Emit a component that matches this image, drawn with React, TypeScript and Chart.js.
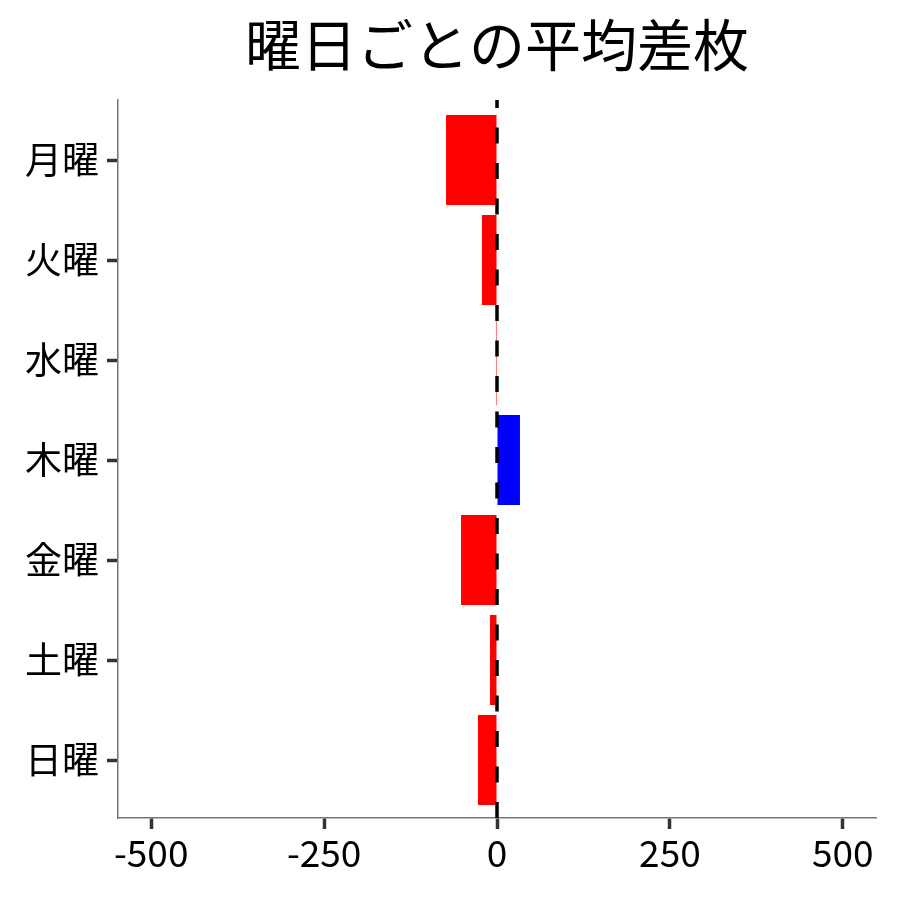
import React, { useEffect, useRef } from "react";
import { Chart, registerables } from "chart.js";

Chart.register(...registerables);

const categories = ["月曜", "火曜", "水曜", "木曜", "金曜", "土曜", "日曜"];
const values = [-73.7, -21.7, -1.5, 33.2, -52, -10.1, -27.5];
const tickValues = [-500, -250, 0, 250, 500];
const titleText = "曜日ごとの平均差枚";

const FONT = "'Noto Sans CJK JP', 'Noto Sans', sans-serif";

export default function App() {
  const ref = useRef<HTMLCanvasElement | null>(null);
  useEffect(() => {
    if (!ref.current) return;
    const titlePlugin = {
      id: "customTitle",
      afterDraw(chart: any) {
        const { ctx, chartArea } = chart;
        ctx.save();
        ctx.font = `56px ${FONT}`;
        ctx.fillStyle = "#000";
        ctx.textAlign = "center";
        ctx.textBaseline = "middle";
        ctx.fillText(titleText, (chartArea.left + chartArea.right) / 2, 45);
        ctx.restore();
      },
    };
    const zeroLine = {
      id: "zeroLine",
      afterDatasetsDraw(chart: any) {
        const { ctx, chartArea, scales } = chart;
        const x = scales.x.getPixelForValue(0);
        ctx.save();
        ctx.strokeStyle = "#000";
        ctx.lineWidth = 3.5;
        ctx.setLineDash([16, 19.5]);
        ctx.beginPath();
        ctx.moveTo(x, chartArea.bottom);
        ctx.lineTo(x, chartArea.top);
        ctx.stroke();
        ctx.restore();
      },
    };
    const chart = new Chart(ref.current, {
      type: "bar",
      data: {
        labels: categories,
        datasets: [
          {
            data: values,
            backgroundColor: values.map((v) => (v < 0 ? "#FF0000" : "#0000FF")),
            borderWidth: 0,
            barPercentage: 0.9,
            categoryPercentage: 1.0,
          },
        ],
      },
      options: {
        indexAxis: "y",
        animation: false,
        responsive: false,
        layout: { padding: { top: 100, right: 24, left: 0, bottom: 0 } },
        plugins: {
          legend: { display: false },
          title: { display: false },
          tooltip: { enabled: false },
        },
        scales: {
          x: {
            type: "linear",
            min: -548,
            max: 548,
            afterBuildTicks(scale: any) {
              scale.ticks = tickValues.map((v) => ({ value: v }));
            },
            afterFit(scale: any) {
              scale.height = 82;
            },
            grid: {
              drawOnChartArea: false,
              drawTicks: true,
              tickLength: 11,
              tickWidth: 3.5,
              tickColor: "#333",
            },
            border: { display: true, color: "#777", width: 1.5 },
            ticks: {
              color: "#000",
              font: { family: FONT, size: 37 },
              padding: 2,
              maxRotation: 0,
            },
          },
          y: {
            afterBuildTicks(scale: any) {
              scale._startValue = -0.6;
              scale._valueRange = 7.18;
            },
            afterFit(scale: any) {
              scale.width = 118;
            },
            grid: {
              drawOnChartArea: false,
              drawTicks: true,
              tickLength: 11,
              tickWidth: 3.5,
              tickColor: "#333",
              offset: false,
            },
            border: { display: true, color: "#777", width: 1.5 },
            ticks: {
              color: "#000",
              font: { family: FONT, size: 37 },
              padding: 8,
            },
          },
        },
      },
      plugins: [titlePlugin, zeroLine],
    });
    return () => chart.destroy();
  }, []);
  return (
    <div style={{ position: "absolute", left: 0, top: 0, width: 900, height: 900, background: "#fff" }}>
      <canvas ref={ref} width={900} height={900} style={{ width: 900, height: 900 }} />
    </div>
  );
}
